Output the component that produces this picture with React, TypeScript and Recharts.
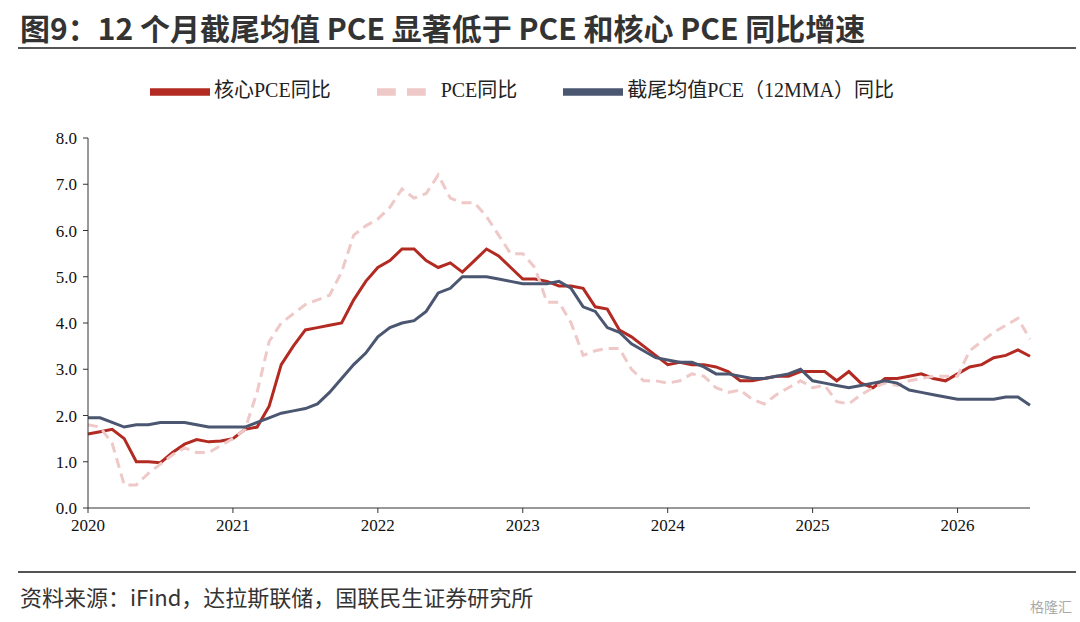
import { LineChart, Line, XAxis, YAxis, Legend } from "recharts";

const years = ["2020", "2021", "2022", "2023", "2024", "2025", "2026"];

// 2020年1月から2026年7月まで（79か月）
const corePce = [
  1.6, 1.65, 1.7, 1.5, 1.0, 1.0, 0.98, 1.2, 1.38, 1.48, 1.43, 1.45,
  1.5, 1.7, 1.75, 2.2, 3.1, 3.5, 3.85, 3.9, 3.95, 4.0, 4.5, 4.9,
  5.2, 5.35, 5.6, 5.6, 5.35, 5.2, 5.3, 5.1, 5.35, 5.6, 5.45, 5.2,
  4.95, 4.95, 4.9, 4.8, 4.8, 4.75, 4.35, 4.3, 3.85, 3.7, 3.5, 3.3,
  3.1, 3.15, 3.1, 3.1, 3.05, 2.95, 2.75, 2.75, 2.8, 2.85, 2.85, 2.95,
  2.95, 2.95, 2.75, 2.95, 2.7, 2.6, 2.8, 2.8, 2.85, 2.9, 2.8, 2.75,
  2.9, 3.05, 3.1, 3.25, 3.3, 3.42, 3.28,
];
const pce = [
  1.8, 1.75, 1.4, 0.5, 0.5, 0.75, 0.95, 1.15, 1.3, 1.2, 1.2, 1.35,
  1.5, 1.7, 2.5, 3.6, 4.0, 4.2, 4.4, 4.5, 4.6, 5.1, 5.9, 6.1,
  6.25, 6.5, 6.9, 6.7, 6.8, 7.2, 6.7, 6.6, 6.6, 6.3, 5.9, 5.5,
  5.5, 5.2, 4.45, 4.45, 4.0, 3.3, 3.4, 3.45, 3.45, 3.0, 2.75, 2.75,
  2.7, 2.75, 2.9, 2.85, 2.6, 2.5, 2.55, 2.35, 2.25, 2.45, 2.6, 2.75,
  2.6, 2.65, 2.3, 2.25, 2.45, 2.6, 2.7, 2.65, 2.75, 2.8, 2.85, 2.85,
  2.85, 3.4, 3.6, 3.8, 3.95, 4.1, 3.65,
];
const trimmed = [
  1.95, 1.95, 1.85, 1.75, 1.8, 1.8, 1.85, 1.85, 1.85, 1.8, 1.75, 1.75,
  1.75, 1.75, 1.85, 1.95, 2.05, 2.1, 2.15, 2.25, 2.5, 2.8, 3.1, 3.35,
  3.7, 3.9, 4.0, 4.05, 4.25, 4.65, 4.75, 5.0, 5.0, 5.0, 4.95, 4.9,
  4.85, 4.85, 4.85, 4.9, 4.75, 4.35, 4.25, 3.9, 3.8, 3.55, 3.4, 3.25,
  3.2, 3.15, 3.15, 3.05, 2.9, 2.9, 2.85, 2.8, 2.8, 2.85, 2.9, 3.0,
  2.75, 2.7, 2.65, 2.6, 2.65, 2.7, 2.75, 2.7, 2.55, 2.5, 2.45, 2.4,
  2.35, 2.35, 2.35, 2.35, 2.4, 2.4, 2.22,
];

const data = corePce.map((v, i) => ({ m: i, core: v, pce: pce[i], trim: trimmed[i] }));
const xTicks = years.map((_, i) => i * 12);
const yTicks = [0, 1, 2, 3, 4, 5, 6, 7, 8];
const serif = "'Liberation Serif', 'Noto Sans CJK SC', serif";

export default function App() {
  return (
    <div style={{ position: "absolute", left: 0, top: 0, width: 1080, height: 622, background: "#fff", fontFamily: "'Noto Sans CJK SC', sans-serif" }}>
      <div style={{ position: "absolute", left: 20, top: 5, fontSize: 30, fontWeight: 700, color: "#333", whiteSpace: "nowrap" }}>
        图9：12 个月截尾均值 PCE 显著低于 PCE 和核心 PCE 同比增速
      </div>
      <div style={{ position: "absolute", left: 18, top: 47, width: 1058, height: 2, background: "#555" }} />
      <div style={{ position: "absolute", left: 0, top: 70 }}>
        <LineChart width={1080} height={470} data={data} margin={{ top: 8, right: 50, bottom: 0, left: 38 }}>
          <Legend
            verticalAlign="top"
            align="center"
            iconType="plainline"
            iconSize={60}
            itemSorter={null}
            wrapperStyle={{ top: -8, left: 0, width: 1090, fontFamily: serif, fontSize: 20, color: "#222" }}
            formatter={(v) => <span style={{ color: "#222", marginRight: 36 }}>{v}</span>}
          />
          <XAxis
            dataKey="m"
            type="number"
            domain={[0, 78]}
            ticks={xTicks}
            tickFormatter={(v) => years[v / 12]}
            height={32}
            stroke="#333"
            tick={{ fill: "#111", fontFamily: serif, fontSize: 17, dy: 4 }}
            tickSize={5}
          />
          <YAxis
            domain={[0, 8]}
            ticks={yTicks}
            tickFormatter={(v) => v.toFixed(1)}
            width={50}
            stroke="#333"
            tick={{ fill: "#111", fontFamily: serif, fontSize: 17, dx: -4 }}
            tickSize={5}
          />
          <Line name="核心PCE同比" dataKey="core" stroke="#b22a22" strokeWidth={3} dot={false} isAnimationActive={false} />
          <Line name="PCE同比" dataKey="pce" stroke="#efc8c8" strokeWidth={3} strokeDasharray="10 6" dot={false} isAnimationActive={false} />
          <Line name="截尾均值PCE（12MMA）同比" dataKey="trim" stroke="#4b5670" strokeWidth={3} dot={false} isAnimationActive={false} />
        </LineChart>
      </div>
      <div style={{ position: "absolute", left: 18, top: 571, width: 1058, height: 1.5, background: "#555" }} />
      <div style={{ position: "absolute", left: 20, top: 580, fontSize: 22, color: "#333" }}>
        资料来源：iFind，达拉斯联储，国联民生证券研究所
      </div>
      <div style={{ position: "absolute", right: 8, top: 596, fontSize: 14, color: "#aaa" }}>格隆汇</div>
    </div>
  );
}
